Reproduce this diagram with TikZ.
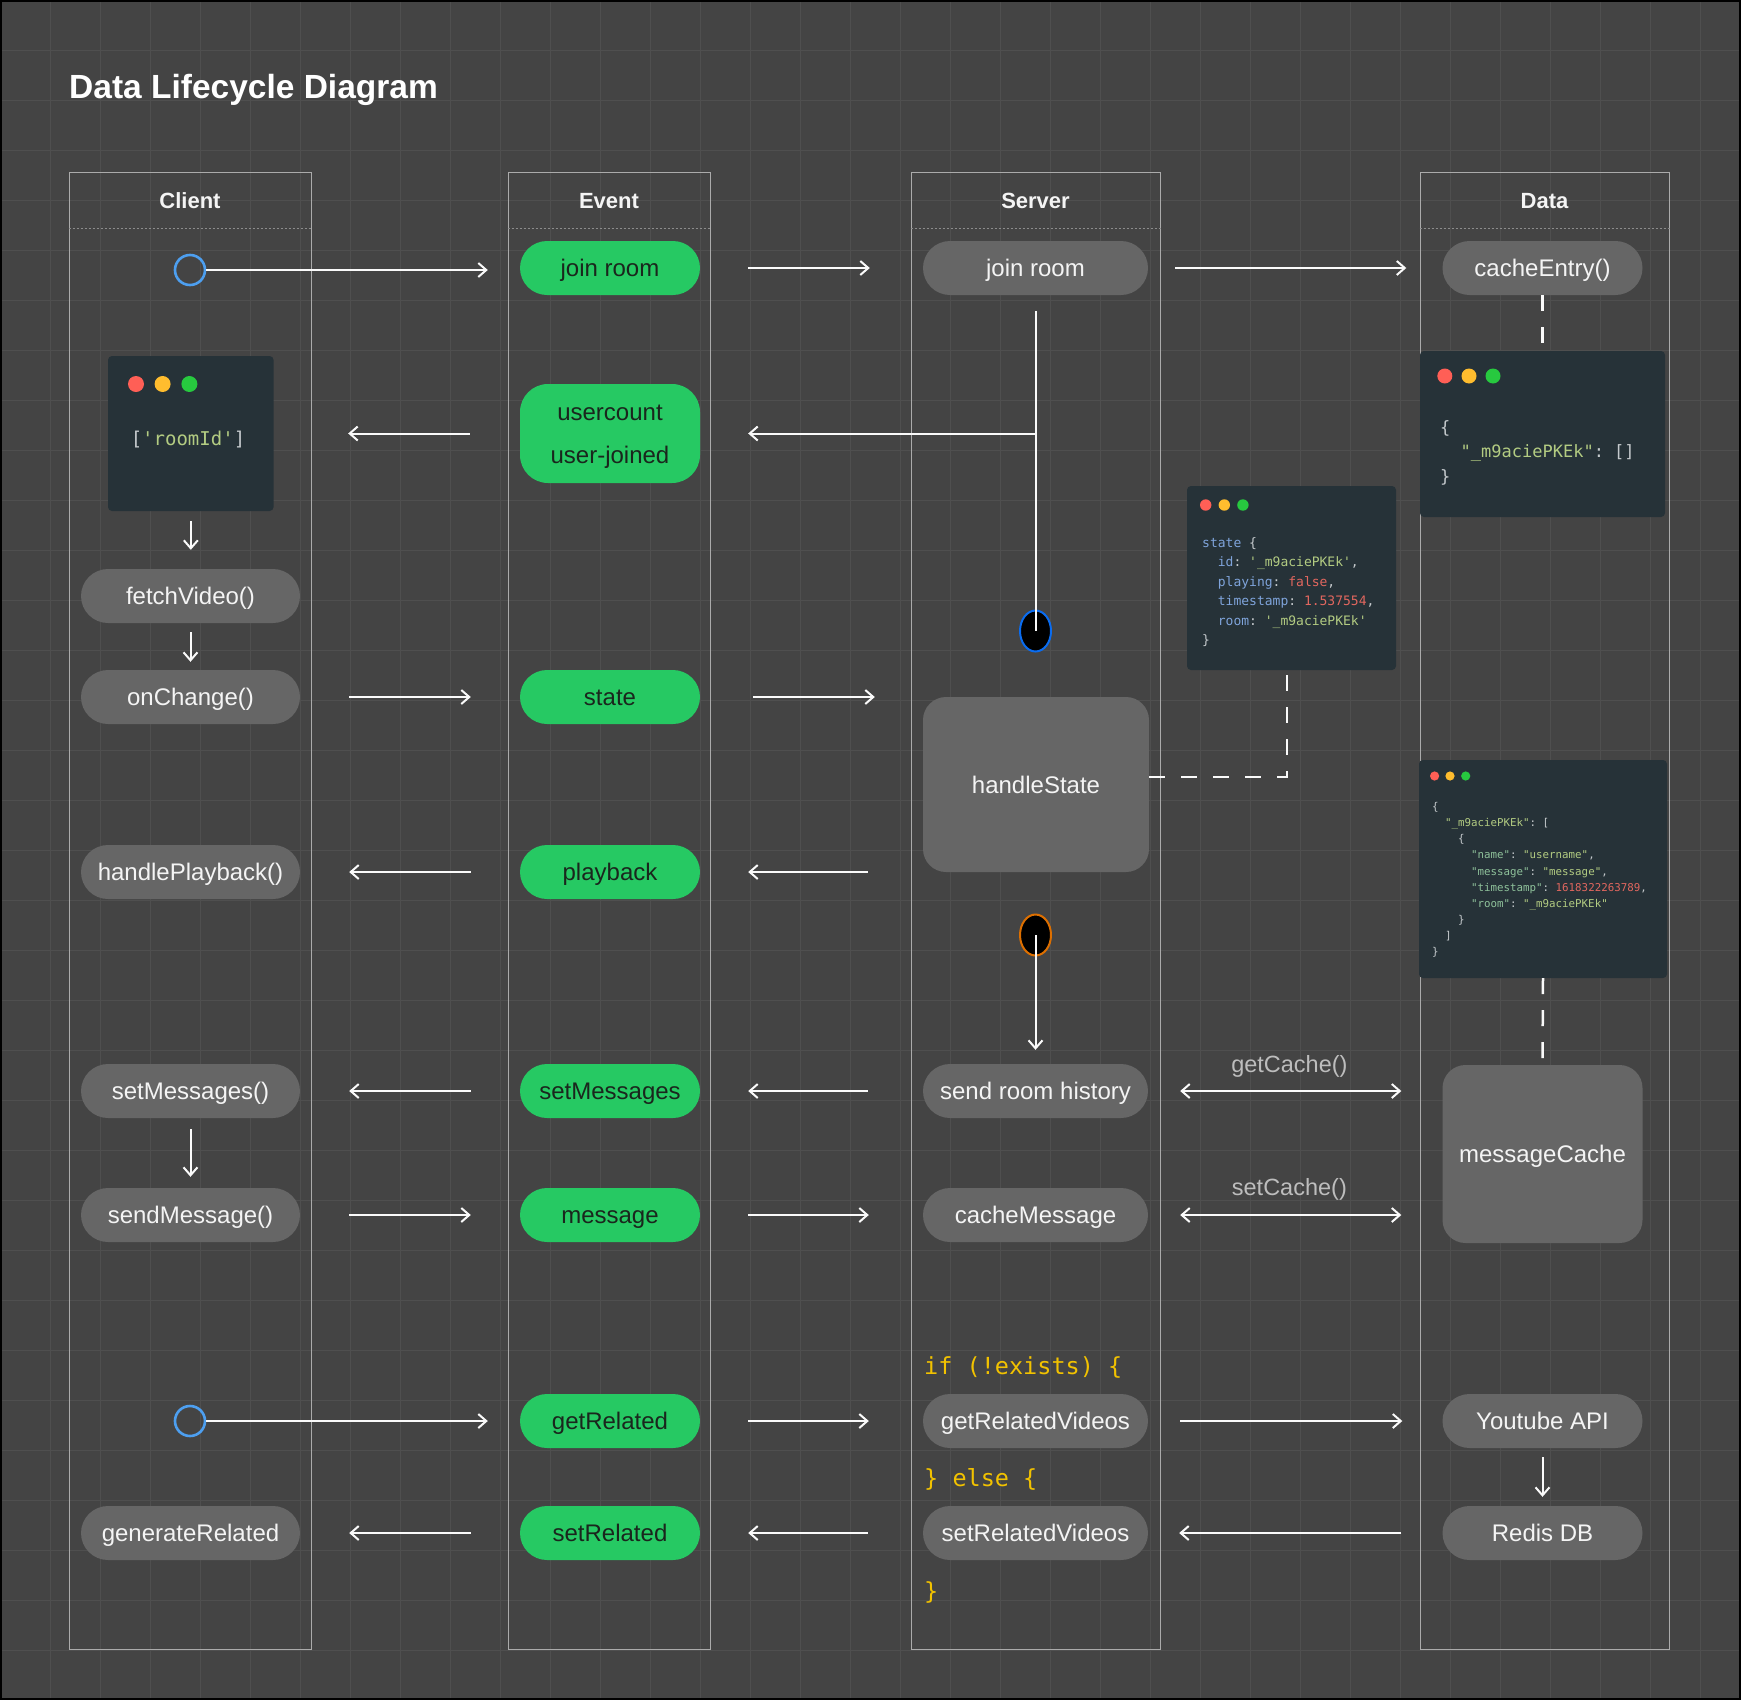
\documentclass[tikz,border=0pt]{standalone}
\usepackage{fontspec}
\setmainfont{Liberation Sans}
\setmonofont{DejaVu Sans Mono}
\usetikzlibrary{arrows.meta,shapes.geometric}

\definecolor{bgc}{HTML}{444444}
\definecolor{gridc}{HTML}{4F4F4F}
\definecolor{lanec}{HTML}{ABABAB}
\definecolor{sepc}{HTML}{8C8C8C}
\definecolor{pillg}{HTML}{26C963}
\definecolor{pillgtext}{HTML}{1A261D}
\definecolor{pillgray}{HTML}{666666}
\definecolor{pilltext}{HTML}{F4F4F4}
\definecolor{codebg}{HTML}{263238}
\definecolor{dotr}{HTML}{FF5F56}
\definecolor{doty}{HTML}{FFBD2E}
\definecolor{dotg}{HTML}{27C93F}
\definecolor{cgray}{HTML}{C5CACD}
\definecolor{cgreen}{HTML}{B3CC82}
\definecolor{cblue}{HTML}{7FA4DB}
\definecolor{cred}{HTML}{E2675F}
\definecolor{cteal}{HTML}{8FC29B}
\definecolor{cyellow}{HTML}{F2C200}
\definecolor{startblue}{HTML}{4D9FF0}
\definecolor{ellblue}{HTML}{0A6CF0}
\definecolor{ellorange}{HTML}{DD6F00}
\definecolor{lblc}{HTML}{BDBDBD}
\definecolor{linec}{HTML}{FAFAFA}

\tikzset{barb/.tip={Straight Barb[length=8pt,width=14pt]}}

\begin{document}
\begin{tikzpicture}[x=1pt,y=-1pt,
  gridl/.style={draw=gridc, line width=1pt},
  lane/.style={rectangle, draw=lanec, line width=1pt, inner sep=0pt, minimum width=#1, minimum height=1477pt},
  sepl/.style={draw=sepc, line width=0.8pt, dash pattern=on 2pt off 2pt},
  hdr/.style={text=pilltext, inner sep=0pt, font=\bfseries\fontsize{22}{26}\selectfont, text height=15.8pt, text depth=0pt},
  gpill/.style={rectangle, rounded corners=27pt, fill=pillgray, text=pilltext, inner sep=0pt,
    minimum height=54pt, minimum width=#1, font=\fontsize{24}{28}\selectfont, text height=17.2pt, text depth=0pt},
  grpill/.style={gpill=180pt, fill=pillg, text=pillgtext},
  bigbox/.style={rectangle, rounded corners=23pt, fill=pillgray, text=pilltext, inner sep=0pt,
    font=\fontsize{24}{28}\selectfont, text height=17.2pt, text depth=0pt},
  codebox/.style={rectangle, rounded corners=4pt, fill=codebg, inner sep=0pt},
  startc/.style={circle, draw=startblue, line width=2.6pt, minimum size=30pt, inner sep=0pt},
  ellc/.style={ellipse, fill=black, draw=#1, line width=2pt, minimum width=31pt, minimum height=41pt, inner sep=0pt},
  arr/.style={draw=linec, line width=2pt, -barb},
  darr/.style={draw=linec, line width=2pt, barb-barb},
  plainl/.style={draw=linec, line width=2pt},
  dashl/.style={draw=linec, line width=2.5pt, dash pattern=on 16pt off 16pt},
  lbl/.style={text=lblc, inner sep=0pt, font=\fontsize{23.5}{28}\selectfont, text height=17pt, text depth=0pt},
  ctxt/.style={inner sep=0pt, anchor=base west, font=\ttfamily\fontsize{#1}{#1}\selectfont},
]
\useasboundingbox (0,0) rectangle (1741,1700);
\fill[bgc] (0,0) rectangle (1741,1700);
\foreach \gx in {50,100,...,1700} \draw[gridl] (\gx,0) -- (\gx,1700);
\foreach \gy in {50,100,...,1650} \draw[gridl] (0,\gy) -- (1741,\gy);
\draw[black, line width=2pt] (1,1) rectangle (1740,1699);

% title
\node[anchor=base west, inner sep=0pt, text=white, font=\bfseries\fontsize{33.5}{40}\selectfont] (title) at (69,98) {Data Lifecycle Diagram};

% lanes
\node[lane=242pt] (laneC) at (190,910.5) {};
\node[lane=202pt] (laneE) at (609,910.5) {};
\node[lane=249pt] (laneS) at (1035.5,910.5) {};
\node[lane=249pt] (laneD) at (1544.5,910.5) {};
\foreach \ln in {laneC,laneE,laneS,laneD}
  \draw[sepl] ([yshift=-57pt]\ln.north west) -- ([yshift=-57pt]\ln.north east);
\node[hdr] (hC) at ([yshift=-29pt]laneC.north) {Client};
\node[hdr] (hE) at ([yshift=-29pt]laneE.north) {Event};
\node[hdr] (hS) at ([yshift=-29pt]laneS.north) {Server};
\node[hdr] (hD) at ([yshift=-29.5pt]laneD.north) {Data};

% ---------- client lane ----------
\node[startc] (c1) at (190,270) {};
\node[codebox, minimum width=165.6pt, minimum height=155pt] (roomidbox) at (190.8,433.5) {};
\fill[dotr] (136,384) circle (8pt);
\fill[doty] (162.6,384) circle (8pt);
\fill[dotg] (189.4,384) circle (8pt);
\node[inner sep=0pt, anchor=base, font=\ttfamily\fontsize{19}{19}\selectfont] (roomidtxt) at (188,445.5)
  {\textcolor{cgray}{[}\textcolor{cgreen}{'roomId'}\textcolor{cgray}{]}};
\node[gpill=219pt] (fetch) at (190.5,596) {fetchVideo()};
\node[gpill=219pt] (onch) at (190.5,697) {onChange()};
\node[gpill=219pt] (hplay) at (190.5,872) {handlePlayback()};
\node[gpill=219pt] (setmsgc) at (190.5,1091) {setMessages()};
\node[gpill=219pt] (sendmsg) at (190.5,1215) {sendMessage()};
\node[startc] (c2) at (190,1421) {};
\node[gpill=219pt] (genrel) at (190.5,1533) {generateRelated};

% ---------- event lane ----------
\node[grpill] (evjoin) at (610,268) {join room};
\node[rectangle, rounded corners=28pt, fill=pillg, minimum width=180pt, minimum height=99pt, inner sep=0pt] (evuc) at (610,433.5) {};
\node[inner sep=0pt, anchor=base, text=pillgtext, font=\fontsize{24}{28}\selectfont] (evuc1) at (610,420.6) {usercount};
\node[inner sep=0pt, anchor=base, text=pillgtext, font=\fontsize{24}{28}\selectfont] (evuc2) at (610,463.6) {user-joined};
\node[grpill] (evstate) at (610,697) {state};
\node[grpill] (evplay) at (610,872) {playback};
\node[grpill] (evsetmsg) at (610,1091) {setMessages};
\node[grpill] (evmsg) at (610,1215) {message};
\node[grpill] (evgetrel) at (610,1421) {getRelated};
\node[grpill] (evsetrel) at (610,1533) {setRelated};

% ---------- server lane ----------
\node[gpill=225pt] (svjoin) at (1035.5,268) {join room};
\node[ellc=ellblue] (ell1) at (1035.5,631) {};
\node[bigbox, minimum width=226pt, minimum height=175pt] (hstate) at (1036,784.5) {handleState};
\node[ellc=ellorange] (ell2) at (1035.5,935) {};
\node[gpill=225pt] (sendhist) at (1035.5,1091) {send room history};
\node[gpill=225pt] (cachemsg) at (1035.5,1215) {cacheMessage};
\node[gpill=225pt] (getrelv) at (1035.5,1421) {getRelatedVideos};
\node[gpill=225pt] (setrelv) at (1035.5,1533) {setRelatedVideos};
\node[ctxt=23.5, text=cyellow] (ifline) at (924,1374.5) {if (!exists) \{};
\node[ctxt=23.5, text=cyellow] (elseline) at (924,1486.8) {\} else \{};
\node[ctxt=23.5, text=cyellow] (endline) at (924,1599.5) {\}};

% state code box
\node[codebox, minimum width=209pt, minimum height=184pt] (stbox) at (1291.5,578) {};
\fill[dotr] (1205.7,505) circle (5.7pt);
\fill[doty] (1224.3,505) circle (5.7pt);
\fill[dotg] (1242.9,505) circle (5.7pt);
\node[ctxt=13] (st1) at (1202,547) {\textcolor{cblue}{state} \textcolor{cgray}{\{}};
\node[ctxt=13] (st2) at (1217.7,566.5) {\textcolor{cblue}{id}\textcolor{cgray}{:} \textcolor{cgreen}{'\_m9aciePKEk'}\textcolor{cgray}{,}};
\node[ctxt=13] (st3) at (1217.7,586) {\textcolor{cblue}{playing}\textcolor{cgray}{:} \textcolor{cred}{false}\textcolor{cgray}{,}};
\node[ctxt=13] (st4) at (1217.7,605.5) {\textcolor{cblue}{timestamp}\textcolor{cgray}{:} \textcolor{cred}{1.537554}\textcolor{cgray}{,}};
\node[ctxt=13] (st5) at (1217.7,625) {\textcolor{cblue}{room}\textcolor{cgray}{:} \textcolor{cgreen}{'\_m9aciePKEk'}};
\node[ctxt=13, text=cgray] (st6) at (1202,644.5) {\}};

% ---------- data lane ----------
\node[gpill=200pt] (cacheentry) at (1542.5,268) {cacheEntry()};
\node[codebox, minimum width=245pt, minimum height=166pt] (dbox1) at (1542.5,434) {};
\fill[dotr] (1444.8,376) circle (7.5pt);
\fill[doty] (1469,376) circle (7.5pt);
\fill[dotg] (1493,376) circle (7.5pt);
\node[ctxt=17, text=cgray] (db1) at (1440,433) {\{};
\node[ctxt=17] (db2) at (1460.5,457) {\textcolor{cgreen}{"\_m9aciePKEk"}\textcolor{cgray}{:} \textcolor{cgray}{[]}};
\node[ctxt=17, text=cgray] (db3) at (1440,482) {\}};

\node[codebox, minimum width=248pt, minimum height=218pt] (msgbox) at (1543,869) {};
\fill[dotr] (1434.6,776) circle (4.6pt);
\fill[doty] (1450,776) circle (4.6pt);
\fill[dotg] (1465.7,776) circle (4.6pt);
\node[ctxt=10.8, text=cgray] (mb1) at (1432,810.6) {\{};
\node[ctxt=10.8] (mb2) at (1445,826.7) {\textcolor{cgreen}{"\_m9aciePKEk"}\textcolor{cgray}{:} \textcolor{cgray}{[}};
\node[ctxt=10.8, text=cgray] (mb3) at (1458,842.8) {\{};
\node[ctxt=10.8] (mb4) at (1471,858.9) {\textcolor{cteal}{"name"}\textcolor{cgray}{:} \textcolor{cgreen}{"username"}\textcolor{cgray}{,}};
\node[ctxt=10.8] (mb5) at (1471,875) {\textcolor{cteal}{"message"}\textcolor{cgray}{:} \textcolor{cgreen}{"message"}\textcolor{cgray}{,}};
\node[ctxt=10.8] (mb6) at (1471,891.1) {\textcolor{cteal}{"timestamp"}\textcolor{cgray}{:} \textcolor{cred}{1618322263789}\textcolor{cgray}{,}};
\node[ctxt=10.8] (mb7) at (1471,907.2) {\textcolor{cteal}{"room"}\textcolor{cgray}{:} \textcolor{cgreen}{"\_m9aciePKEk"}};
\node[ctxt=10.8, text=cgray] (mb8) at (1458,923.3) {\}};
\node[ctxt=10.8, text=cgray] (mb9) at (1445,939.4) {]};
\node[ctxt=10.8, text=cgray] (mb10) at (1432,955.5) {\}};

\node[bigbox, minimum width=200pt, minimum height=178pt] (msgcache) at (1542.5,1154) {messageCache};
\node[gpill=200pt] (yt) at (1542.5,1421) {Youtube API};
\node[gpill=200pt] (redis) at (1542.5,1533) {Redis DB};

% ---------- connectors ----------
\draw[arr, shorten >=32pt] (c1.east) -- (c1.east -| evjoin.west);
\draw[arr, shorten <=48pt, shorten >=53pt] (evjoin.east) -- (svjoin.west);
\draw[arr, shorten <=27pt, shorten >=36pt] (svjoin.east) -- (cacheentry.west);
\draw[dashl] (cacheentry.south) -- (dbox1.north);
\draw[plainl, shorten <=16pt] (svjoin.south) -- (ell1.center);
\coordinate (br) at (1035.5,433.5);
\draw[arr, shorten >=48pt] (br) -- (br -| evuc.east);
\draw[arr, shorten <=50pt, shorten >=74.4pt] (evuc.west) -- (roomidbox.east);
\draw[arr, shorten <=10pt, shorten >=19pt] (roomidbox.south) -- (roomidbox.south |- fetch.north);
\draw[arr, shorten <=9pt, shorten >=8pt] (fetch.south) -- (onch.north);
\draw[arr, shorten <=49pt, shorten >=49pt] (onch.east) -- (evstate.west);
\draw[arr, shorten <=53pt, shorten >=48pt] (evstate.east) -- (evstate.east -| hstate.west);
\coordinate (dc) at (1287,777);
\draw[dashl] (hstate.east |- dc) -- (dc) -- (dc |- stbox.south);
\draw[arr, shorten <=55pt, shorten >=48pt] (hstate.west |- evplay.east) -- (evplay.east);
\draw[arr, shorten <=49pt, shorten >=49pt] (evplay.west) -- (hplay.east);
\draw[arr, shorten >=14pt] (ell2.center) -- (sendhist.north);
\draw[dashl] (msgbox.south) -- (msgcache.north);
\draw[darr, shorten <=32pt, shorten >=41pt] (sendhist.east) -- (sendhist.east -| msgcache.west)
  node[lbl, pos=0.48, yshift=27pt] (getlbl) {getCache()};
\draw[arr, shorten <=55pt, shorten >=48pt] (sendhist.west) -- (evsetmsg.east);
\draw[arr, shorten <=49pt, shorten >=49pt] (evsetmsg.west) -- (setmsgc.east);
\draw[arr, shorten <=11pt, shorten >=11pt] (setmsgc.south) -- (sendmsg.north);
\draw[arr, shorten <=49pt, shorten >=49pt] (sendmsg.east) -- (evmsg.west);
\draw[arr, shorten <=48pt, shorten >=54pt] (evmsg.east) -- (cachemsg.west);
\draw[darr, shorten <=32pt, shorten >=41pt] (cachemsg.east) -- (cachemsg.east -| msgcache.west)
  node[lbl, pos=0.48, yshift=28pt] (setlbl) {setCache()};
\draw[arr, shorten >=32pt] (c2.east) -- (c2.east -| evgetrel.west);
\draw[arr, shorten <=48pt, shorten >=54pt] (evgetrel.east) -- (getrelv.west);
\draw[arr, shorten <=32pt, shorten >=40pt] (getrelv.east) -- (yt.west);
\draw[arr, shorten <=9pt, shorten >=9pt] (yt.south) -- (redis.north);
\draw[arr, shorten <=41pt, shorten >=31pt] (redis.west) -- (setrelv.east);
\draw[arr, shorten <=55pt, shorten >=48pt] (setrelv.west) -- (evsetrel.east);
\draw[arr, shorten <=49pt, shorten >=49pt] (evsetrel.west) -- (genrel.east);
\end{tikzpicture}
\end{document}
